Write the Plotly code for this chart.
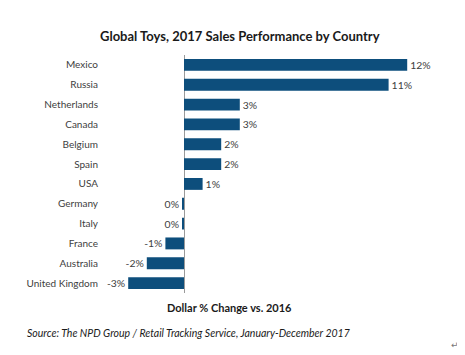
import plotly.graph_objects as go

countries = ["Mexico", "Russia", "Netherlands", "Canada", "Belgium", "Spain", "USA",
             "Germany", "Italy", "France", "Australia", "United Kingdom"]
pct_change = [12, 11, 3, 3, 2, 2, 1, -0.1, -0.1, -1, -2, -3]
value_labels = [f"{round(v)}%" for v in pct_change]

title_text = "Global Toys, 2017 Sales Performance by Country"
axis_title_text = "Dollar % Change vs. 2016"
source_text = "Source: The NPD Group / Retail Tracking Service, January-December 2017"

# page body has an 8px margin; work in screen coordinates and offset
OFF = 8
W, H = 465 - OFF, 355 - OFF
plot_left, plot_right, plot_top, plot_bottom = 105, 440, 55, 293  # screen px
L = plot_left - OFF
T = plot_top - OFF
R = W - (plot_right - OFF)
B = H - (plot_bottom - OFF)
pw, ph = W - L - R, H - T - B

def px(x):
    return (x - OFF - L) / pw

def py(y):
    return 1 - (y - OFF - T) / ph

ZERO_X = 184
SCALE = 18.6  # px per percent

FONT = "Lato"
BAR = "#0d4e7c"

fig = go.Figure(go.Bar(
    x=pct_change, y=countries, orientation="h",
    marker=dict(color=BAR, line=dict(width=0)),
    width=0.6,
    text=value_labels, textposition="outside",
    textfont=dict(family=FONT, size=10.5, color="#404040"),
    cliponaxis=False,
))

fig.update_layout(
    width=W, height=H,
    margin=dict(l=L, r=R, t=T, b=B, autoexpand=False),
    paper_bgcolor="white", plot_bgcolor="white",
    showlegend=False,
    font=dict(family=FONT, size=10.5, color="#404040"),
    xaxis=dict(range=[-(ZERO_X - plot_left) / SCALE, (plot_right - ZERO_X) / SCALE],
               showgrid=False, showticklabels=False, ticks="",
               zeroline=True, zerolinecolor="#9a9a9a", zerolinewidth=1,
               automargin=False, fixedrange=True),
    yaxis=dict(autorange="reversed", showgrid=False, zeroline=False,
               showline=False, ticks="", ticklabelstandoff=6,
               automargin=False,
               tickfont=dict(family=FONT, size=10, color="#404040"),
               fixedrange=True),
    annotations=[
        dict(text=f"<b>{title_text}</b>", xref="paper", yref="paper",
             x=px(240), y=py(36), xanchor="center", yanchor="middle",
             showarrow=False, font=dict(family=FONT, size=13, color="#1a1a1a")),
        dict(text=f"<b>{axis_title_text}</b>", xref="paper", yref="paper",
             x=px(229), y=py(307), xanchor="center", yanchor="middle",
             showarrow=False, font=dict(family=FONT, size=11, color="#1a1a1a")),
        dict(text=f"<i>{source_text}</i>", xref="paper", yref="paper",
             x=px(25), y=py(333), xanchor="left", yanchor="middle",
             showarrow=False, font=dict(family=FONT, size=10.5, color="#1a1a1a")),
        dict(text="↵", xref="paper", yref="paper",
             x=px(455), y=py(345), xanchor="center", yanchor="middle",
             showarrow=False, font=dict(family="DejaVu Sans", size=9, color="#777777")),
    ],
)

fig.write_html("out.html")
